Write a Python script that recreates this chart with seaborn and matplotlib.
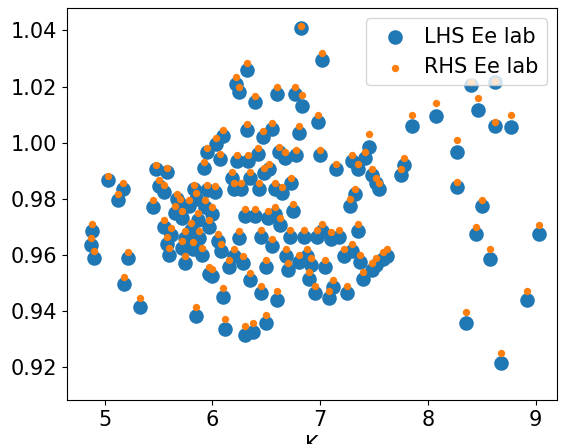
import matplotlib
matplotlib.use("Agg")
import matplotlib.pyplot as plt
import seaborn as sns

# K values and electron energies
k = [4.87, 4.88, 4.90, 5.03, 5.12, 5.17, 5.18, 5.22, 5.33,
     5.45, 5.48, 5.50, 5.55, 5.58, 5.55, 5.58, 5.60, 5.62, 5.65,
     5.67, 5.70, 5.72, 5.72, 5.75, 5.75, 5.78, 5.80, 5.82, 5.83,
     5.85, 5.85, 5.87, 5.88, 5.90, 5.92, 5.93, 5.95, 5.95, 5.97,
     5.97, 6.00, 6.00, 6.02, 6.03, 6.05, 6.07, 6.08, 6.10, 6.10,
     6.12, 6.15, 6.18, 6.20, 6.20, 6.22, 6.23, 6.25, 6.25, 6.27,
     6.28, 6.30, 6.30, 6.32, 6.32, 6.33, 6.35, 6.35, 6.38, 6.40,
     6.40, 6.42, 6.43, 6.45, 6.45, 6.47, 6.48, 6.50, 6.50, 6.52,
     6.53, 6.55, 6.55, 6.58, 6.58, 6.60, 6.60, 6.62, 6.63, 6.65,
     6.67, 6.68, 6.70, 6.72, 6.73, 6.75, 6.77, 6.78, 6.80, 6.80,
     6.82, 6.83, 6.85, 6.88, 6.90, 6.92, 6.95, 6.97, 6.98, 7.00,
     7.02, 7.02, 7.05, 7.08, 7.10, 7.12, 7.15, 7.18, 7.22, 7.25,
     7.28, 7.30, 7.30, 7.32, 7.35, 7.35, 7.37, 7.40, 7.42, 7.45,
     7.48, 7.48, 7.52, 7.52, 7.55, 7.58, 7.62, 7.75, 7.78, 7.85,
     8.08, 8.27, 8.27, 8.35, 8.40, 8.45, 8.47, 8.50, 8.58, 8.62,
     8.62, 8.68, 8.77, 8.92, 9.03]

ee_lhs = [0.9635, 0.9685, 0.9590, 0.9865, 0.9795, 0.9835, 0.9495, 0.9590, 0.9415,
          0.9770, 0.9905, 0.9845, 0.9825, 0.9895, 0.9700, 0.9640, 0.9600, 0.9670, 0.9750,
          0.9800, 0.9780, 0.9730, 0.9625, 0.9570, 0.9660, 0.9775, 0.9690, 0.9620, 0.9835,
          0.9800, 0.9380, 0.9725, 0.9660, 0.9600, 0.9910, 0.9770, 0.9830, 0.9965, 0.9700,
          0.9530, 0.9525, 0.9745, 0.9825, 0.9995, 0.9650, 0.9940, 0.9615, 1.0025, 0.9450,
          0.9335, 0.9555, 0.9875, 0.9835, 0.9595, 1.0210, 0.9935, 1.0180, 0.9660, 0.9835,
          0.9570, 0.9740, 0.9315, 1.0260, 1.0045, 0.9935, 0.9875, 0.9510, 0.9325, 0.9740,
          1.0145, 0.9960, 0.9835, 0.9665, 0.9465, 1.0020, 0.9890, 0.9355, 0.9555, 0.9730,
          0.9905, 1.0050, 0.9630, 0.9745, 0.9835, 1.0175, 0.9440, 0.9965, 0.9705, 0.9820,
          0.9945, 0.9595, 0.9545, 0.9665, 0.9855, 0.9755, 1.0175, 0.9955, 1.0035, 0.9575,
          1.0410, 1.0130, 0.9665, 0.9595, 0.9515, 0.9565, 0.9465, 0.9665, 1.0075, 0.9955,
          1.0295, 0.9685, 0.9555, 0.9445, 0.9655, 0.9485, 0.9905, 0.9665, 0.9595, 0.9465,
          0.9775, 0.9935, 0.9615, 0.9815, 0.9905, 0.9685, 0.9575, 0.9515, 0.9945, 0.9985,
          0.9545, 0.9885, 0.9565, 0.9855, 0.9835, 0.9585, 0.9595, 0.9885, 0.9920, 1.0060,
          1.0095, 0.9965, 0.9840, 0.9355, 1.0205, 0.9675, 1.0115, 0.9775, 0.9585, 1.0060,
          1.0215, 0.9215, 1.0055, 0.9440, 0.9675]

ee_rhs = [0.9660, 0.9710, 0.9615, 0.9880, 0.9815, 0.9855, 0.9520, 0.9610, 0.9445,
          0.9795, 0.9920, 0.9865, 0.9850, 0.9910, 0.9725, 0.9665, 0.9625, 0.9695, 0.9775,
          0.9815, 0.9800, 0.9755, 0.9650, 0.9595, 0.9685, 0.9795, 0.9715, 0.9645, 0.9850,
          0.9820, 0.9415, 0.9750, 0.9685, 0.9625, 0.9930, 0.9795, 0.9850, 0.9980, 0.9725,
          0.9555, 0.9550, 0.9770, 0.9845, 1.0015, 0.9675, 0.9960, 0.9640, 1.0045, 0.9480,
          0.9370, 0.9580, 0.9895, 0.9855, 0.9620, 1.0235, 0.9955, 1.0200, 0.9685, 0.9855,
          0.9595, 0.9765, 0.9345, 1.0285, 1.0065, 0.9955, 0.9895, 0.9535, 0.9355, 0.9765,
          1.0165, 0.9980, 0.9855, 0.9690, 0.9490, 1.0040, 0.9910, 0.9385, 0.9580, 0.9755,
          0.9925, 1.0070, 0.9655, 0.9770, 0.9855, 1.0200, 0.9470, 0.9985, 0.9730, 0.9840,
          0.9965, 0.9620, 0.9570, 0.9690, 0.9875, 0.9780, 1.0200, 0.9975, 1.0060, 0.9600,
          1.0415, 1.0170, 0.9690, 0.9620, 0.9540, 0.9590, 0.9490, 0.9690, 1.0100, 0.9975,
          1.0320, 0.9710, 0.9580, 0.9470, 0.9680, 0.9510, 0.9925, 0.9690, 0.9620, 0.9490,
          0.9800, 0.9955, 0.9640, 0.9835, 0.9925, 0.9710, 0.9600, 0.9540, 0.9965, 1.0030,
          0.9570, 0.9905, 0.9590, 0.9875, 0.9855, 0.9610, 0.9620, 0.9905, 0.9945, 1.0100,
          1.0140, 1.0010, 0.9860, 0.9395, 1.0215, 0.9700, 1.0160, 0.9795, 0.9620, 1.0075,
          1.0220, 0.9250, 1.0100, 0.9470, 0.9705]

plt.rcParams['font.size'] = 15
fig, ax = plt.subplots(figsize=(5.72, 4.44), dpi=100)

sns.scatterplot(x=k, y=ee_lhs, ax=ax, color="#1f77b4", s=110, linewidth=0, label="LHS Ee lab")
sns.scatterplot(x=k, y=ee_rhs, ax=ax, color="#ff7f0e", s=28, linewidth=0, label="RHS Ee lab")

ax.set_xlabel("K")
ax.set_xticks([5, 6, 7, 8, 9])
ax.set_yticks([0.92, 0.94, 0.96, 0.98, 1.00, 1.02, 1.04])
ax.set_xlim(4.65, 9.2)
ax.set_ylim(0.9082, 1.048)
ax.legend(loc="upper right", fontsize=15, handletextpad=0.4)

fig.subplots_adjust(left=0.117, right=0.974, top=0.982, bottom=0.099)
fig.savefig("out.png")
